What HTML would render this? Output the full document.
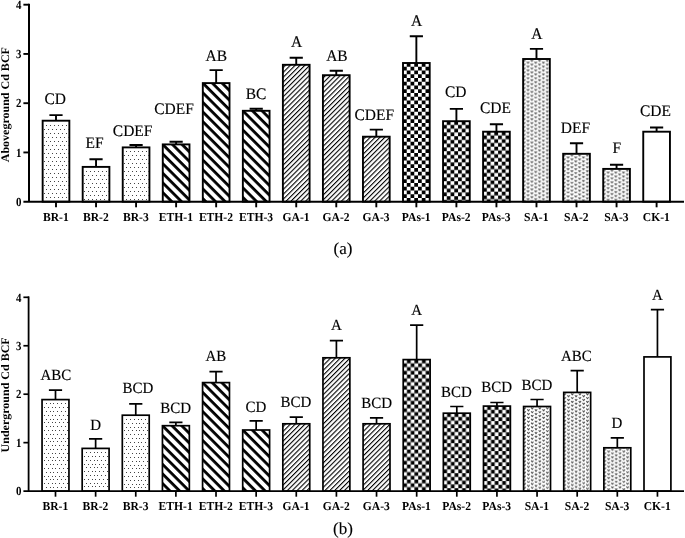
<!DOCTYPE html>
<html><head><meta charset="utf-8"><title>Cd BCF</title>
<style>
html,body{margin:0;padding:0;background:#fff}
svg{display:block;will-change:transform}
text{font-family:"Liberation Serif",serif;fill:#000;text-rendering:geometricPrecision}
.l{text-anchor:middle;stroke:#000;stroke-width:0.15px}
.x{font-size:11.6px;font-weight:bold;text-anchor:middle}
.t{font-size:12.4px;font-weight:bold;text-anchor:end}
.ti{font-size:12px;font-weight:bold;text-anchor:middle}
.c{font-size:17px;text-anchor:middle;stroke:#000;stroke-width:0.12px}
</style></head><body>
<svg width="685" height="538" viewBox="0 0 685 538">
<defs>
<pattern id="etha" width="6.800" height="6.800" y="-1.40" patternUnits="userSpaceOnUse" patternTransform="rotate(45)"><rect width="6.800" height="6.800" fill="#fff"/><rect width="6.800" height="2.800" y="0" fill="#000"/></pattern>
<pattern id="gaa" y="1.56" width="3.450" height="3.450" patternUnits="userSpaceOnUse" patternTransform="rotate(-45)"><rect width="3.450" height="3.450" fill="#fff"/><rect width="3.450" height="1.100" y="0" fill="#000"/></pattern>
<pattern id="chka" width="15.000" height="15.000" x="0.00" y="0.00" patternUnits="userSpaceOnUse"><rect width="15.000" height="15.000" fill="#fff"/><path d="M3.750 0.000h3.750v3.750h-3.750zM11.250 0.000h3.750v3.750h-3.750zM0.000 3.750h3.750v3.750h-3.750zM7.500 3.750h3.750v3.750h-3.750zM3.750 7.500h3.750v3.750h-3.750zM11.250 7.500h3.750v3.750h-3.750zM0.000 11.250h3.750v3.750h-3.750zM7.500 11.250h3.750v3.750h-3.750z" fill="#000"/></pattern>
<pattern id="saa" width="38.500" height="39.000" x="-0.58" y="0.40" patternUnits="userSpaceOnUse"><rect width="38.500" height="39.000" fill="#fff"/><path d="M0.50 0.40l1.15 1.6l1.15 -1.6M4.35 2.35l1.15 1.6l1.15 -1.6M8.20 0.40l1.15 1.6l1.15 -1.6M12.05 2.35l1.15 1.6l1.15 -1.6M15.90 0.40l1.15 1.6l1.15 -1.6M19.75 2.35l1.15 1.6l1.15 -1.6M23.60 0.40l1.15 1.6l1.15 -1.6M27.45 2.35l1.15 1.6l1.15 -1.6M31.30 0.40l1.15 1.6l1.15 -1.6M35.15 2.35l1.15 1.6l1.15 -1.6M0.50 4.30l1.15 1.6l1.15 -1.6M4.35 6.25l1.15 1.6l1.15 -1.6M8.20 4.30l1.15 1.6l1.15 -1.6M12.05 6.25l1.15 1.6l1.15 -1.6M15.90 4.30l1.15 1.6l1.15 -1.6M19.75 6.25l1.15 1.6l1.15 -1.6M23.60 4.30l1.15 1.6l1.15 -1.6M27.45 6.25l1.15 1.6l1.15 -1.6M31.30 4.30l1.15 1.6l1.15 -1.6M35.15 6.25l1.15 1.6l1.15 -1.6M0.50 8.20l1.15 1.6l1.15 -1.6M4.35 10.15l1.15 1.6l1.15 -1.6M8.20 8.20l1.15 1.6l1.15 -1.6M12.05 10.15l1.15 1.6l1.15 -1.6M15.90 8.20l1.15 1.6l1.15 -1.6M19.75 10.15l1.15 1.6l1.15 -1.6M23.60 8.20l1.15 1.6l1.15 -1.6M27.45 10.15l1.15 1.6l1.15 -1.6M31.30 8.20l1.15 1.6l1.15 -1.6M35.15 10.15l1.15 1.6l1.15 -1.6M0.50 12.10l1.15 1.6l1.15 -1.6M4.35 14.05l1.15 1.6l1.15 -1.6M8.20 12.10l1.15 1.6l1.15 -1.6M12.05 14.05l1.15 1.6l1.15 -1.6M15.90 12.10l1.15 1.6l1.15 -1.6M19.75 14.05l1.15 1.6l1.15 -1.6M23.60 12.10l1.15 1.6l1.15 -1.6M27.45 14.05l1.15 1.6l1.15 -1.6M31.30 12.10l1.15 1.6l1.15 -1.6M35.15 14.05l1.15 1.6l1.15 -1.6M0.50 16.00l1.15 1.6l1.15 -1.6M4.35 17.95l1.15 1.6l1.15 -1.6M8.20 16.00l1.15 1.6l1.15 -1.6M12.05 17.95l1.15 1.6l1.15 -1.6M15.90 16.00l1.15 1.6l1.15 -1.6M19.75 17.95l1.15 1.6l1.15 -1.6M23.60 16.00l1.15 1.6l1.15 -1.6M27.45 17.95l1.15 1.6l1.15 -1.6M31.30 16.00l1.15 1.6l1.15 -1.6M35.15 17.95l1.15 1.6l1.15 -1.6M0.50 19.90l1.15 1.6l1.15 -1.6M4.35 21.85l1.15 1.6l1.15 -1.6M8.20 19.90l1.15 1.6l1.15 -1.6M12.05 21.85l1.15 1.6l1.15 -1.6M15.90 19.90l1.15 1.6l1.15 -1.6M19.75 21.85l1.15 1.6l1.15 -1.6M23.60 19.90l1.15 1.6l1.15 -1.6M27.45 21.85l1.15 1.6l1.15 -1.6M31.30 19.90l1.15 1.6l1.15 -1.6M35.15 21.85l1.15 1.6l1.15 -1.6M0.50 23.80l1.15 1.6l1.15 -1.6M4.35 25.75l1.15 1.6l1.15 -1.6M8.20 23.80l1.15 1.6l1.15 -1.6M12.05 25.75l1.15 1.6l1.15 -1.6M15.90 23.80l1.15 1.6l1.15 -1.6M19.75 25.75l1.15 1.6l1.15 -1.6M23.60 23.80l1.15 1.6l1.15 -1.6M27.45 25.75l1.15 1.6l1.15 -1.6M31.30 23.80l1.15 1.6l1.15 -1.6M35.15 25.75l1.15 1.6l1.15 -1.6M0.50 27.70l1.15 1.6l1.15 -1.6M4.35 29.65l1.15 1.6l1.15 -1.6M8.20 27.70l1.15 1.6l1.15 -1.6M12.05 29.65l1.15 1.6l1.15 -1.6M15.90 27.70l1.15 1.6l1.15 -1.6M19.75 29.65l1.15 1.6l1.15 -1.6M23.60 27.70l1.15 1.6l1.15 -1.6M27.45 29.65l1.15 1.6l1.15 -1.6M31.30 27.70l1.15 1.6l1.15 -1.6M35.15 29.65l1.15 1.6l1.15 -1.6M0.50 31.60l1.15 1.6l1.15 -1.6M4.35 33.55l1.15 1.6l1.15 -1.6M8.20 31.60l1.15 1.6l1.15 -1.6M12.05 33.55l1.15 1.6l1.15 -1.6M15.90 31.60l1.15 1.6l1.15 -1.6M19.75 33.55l1.15 1.6l1.15 -1.6M23.60 31.60l1.15 1.6l1.15 -1.6M27.45 33.55l1.15 1.6l1.15 -1.6M31.30 31.60l1.15 1.6l1.15 -1.6M35.15 33.55l1.15 1.6l1.15 -1.6M0.50 35.50l1.15 1.6l1.15 -1.6M4.35 37.45l1.15 1.6l1.15 -1.6M8.20 35.50l1.15 1.6l1.15 -1.6M12.05 37.45l1.15 1.6l1.15 -1.6M15.90 35.50l1.15 1.6l1.15 -1.6M19.75 37.45l1.15 1.6l1.15 -1.6M23.60 35.50l1.15 1.6l1.15 -1.6M27.45 37.45l1.15 1.6l1.15 -1.6M31.30 35.50l1.15 1.6l1.15 -1.6M35.15 37.45l1.15 1.6l1.15 -1.6" stroke="#484848" stroke-width="1.0" stroke-linejoin="round" fill="none"/></pattern>
<pattern id="ethb" width="6.800" height="6.800" y="-1.40" patternUnits="userSpaceOnUse" patternTransform="rotate(45)"><rect width="6.800" height="6.800" fill="#fff"/><rect width="6.800" height="2.800" y="0" fill="#000"/></pattern>
<pattern id="gab" y="1.56" width="3.450" height="3.450" patternUnits="userSpaceOnUse" patternTransform="rotate(-45)"><rect width="3.450" height="3.450" fill="#fff"/><rect width="3.450" height="1.100" y="0" fill="#000"/></pattern>
<pattern id="chkb" width="15.000" height="15.000" x="0.00" y="0.00" patternUnits="userSpaceOnUse"><rect width="15.000" height="15.000" fill="#fff"/><path d="M3.750 0.000h3.750v3.750h-3.750zM11.250 0.000h3.750v3.750h-3.750zM0.000 3.750h3.750v3.750h-3.750zM7.500 3.750h3.750v3.750h-3.750zM3.750 7.500h3.750v3.750h-3.750zM11.250 7.500h3.750v3.750h-3.750zM0.000 11.250h3.750v3.750h-3.750zM7.500 11.250h3.750v3.750h-3.750z" fill="#000"/></pattern>
<pattern id="sab" width="37.800" height="37.800" x="-0.59" y="0.58" patternUnits="userSpaceOnUse"><rect width="37.800" height="37.800" fill="#fff"/><path d="M0.50 0.40l1.15 1.6l1.15 -1.6M4.28 2.29l1.15 1.6l1.15 -1.6M8.06 0.40l1.15 1.6l1.15 -1.6M11.84 2.29l1.15 1.6l1.15 -1.6M15.62 0.40l1.15 1.6l1.15 -1.6M19.40 2.29l1.15 1.6l1.15 -1.6M23.18 0.40l1.15 1.6l1.15 -1.6M26.96 2.29l1.15 1.6l1.15 -1.6M30.74 0.40l1.15 1.6l1.15 -1.6M34.52 2.29l1.15 1.6l1.15 -1.6M0.50 4.18l1.15 1.6l1.15 -1.6M4.28 6.07l1.15 1.6l1.15 -1.6M8.06 4.18l1.15 1.6l1.15 -1.6M11.84 6.07l1.15 1.6l1.15 -1.6M15.62 4.18l1.15 1.6l1.15 -1.6M19.40 6.07l1.15 1.6l1.15 -1.6M23.18 4.18l1.15 1.6l1.15 -1.6M26.96 6.07l1.15 1.6l1.15 -1.6M30.74 4.18l1.15 1.6l1.15 -1.6M34.52 6.07l1.15 1.6l1.15 -1.6M0.50 7.96l1.15 1.6l1.15 -1.6M4.28 9.85l1.15 1.6l1.15 -1.6M8.06 7.96l1.15 1.6l1.15 -1.6M11.84 9.85l1.15 1.6l1.15 -1.6M15.62 7.96l1.15 1.6l1.15 -1.6M19.40 9.85l1.15 1.6l1.15 -1.6M23.18 7.96l1.15 1.6l1.15 -1.6M26.96 9.85l1.15 1.6l1.15 -1.6M30.74 7.96l1.15 1.6l1.15 -1.6M34.52 9.85l1.15 1.6l1.15 -1.6M0.50 11.74l1.15 1.6l1.15 -1.6M4.28 13.63l1.15 1.6l1.15 -1.6M8.06 11.74l1.15 1.6l1.15 -1.6M11.84 13.63l1.15 1.6l1.15 -1.6M15.62 11.74l1.15 1.6l1.15 -1.6M19.40 13.63l1.15 1.6l1.15 -1.6M23.18 11.74l1.15 1.6l1.15 -1.6M26.96 13.63l1.15 1.6l1.15 -1.6M30.74 11.74l1.15 1.6l1.15 -1.6M34.52 13.63l1.15 1.6l1.15 -1.6M0.50 15.52l1.15 1.6l1.15 -1.6M4.28 17.41l1.15 1.6l1.15 -1.6M8.06 15.52l1.15 1.6l1.15 -1.6M11.84 17.41l1.15 1.6l1.15 -1.6M15.62 15.52l1.15 1.6l1.15 -1.6M19.40 17.41l1.15 1.6l1.15 -1.6M23.18 15.52l1.15 1.6l1.15 -1.6M26.96 17.41l1.15 1.6l1.15 -1.6M30.74 15.52l1.15 1.6l1.15 -1.6M34.52 17.41l1.15 1.6l1.15 -1.6M0.50 19.30l1.15 1.6l1.15 -1.6M4.28 21.19l1.15 1.6l1.15 -1.6M8.06 19.30l1.15 1.6l1.15 -1.6M11.84 21.19l1.15 1.6l1.15 -1.6M15.62 19.30l1.15 1.6l1.15 -1.6M19.40 21.19l1.15 1.6l1.15 -1.6M23.18 19.30l1.15 1.6l1.15 -1.6M26.96 21.19l1.15 1.6l1.15 -1.6M30.74 19.30l1.15 1.6l1.15 -1.6M34.52 21.19l1.15 1.6l1.15 -1.6M0.50 23.08l1.15 1.6l1.15 -1.6M4.28 24.97l1.15 1.6l1.15 -1.6M8.06 23.08l1.15 1.6l1.15 -1.6M11.84 24.97l1.15 1.6l1.15 -1.6M15.62 23.08l1.15 1.6l1.15 -1.6M19.40 24.97l1.15 1.6l1.15 -1.6M23.18 23.08l1.15 1.6l1.15 -1.6M26.96 24.97l1.15 1.6l1.15 -1.6M30.74 23.08l1.15 1.6l1.15 -1.6M34.52 24.97l1.15 1.6l1.15 -1.6M0.50 26.86l1.15 1.6l1.15 -1.6M4.28 28.75l1.15 1.6l1.15 -1.6M8.06 26.86l1.15 1.6l1.15 -1.6M11.84 28.75l1.15 1.6l1.15 -1.6M15.62 26.86l1.15 1.6l1.15 -1.6M19.40 28.75l1.15 1.6l1.15 -1.6M23.18 26.86l1.15 1.6l1.15 -1.6M26.96 28.75l1.15 1.6l1.15 -1.6M30.74 26.86l1.15 1.6l1.15 -1.6M34.52 28.75l1.15 1.6l1.15 -1.6M0.50 30.64l1.15 1.6l1.15 -1.6M4.28 32.53l1.15 1.6l1.15 -1.6M8.06 30.64l1.15 1.6l1.15 -1.6M11.84 32.53l1.15 1.6l1.15 -1.6M15.62 30.64l1.15 1.6l1.15 -1.6M19.40 32.53l1.15 1.6l1.15 -1.6M23.18 30.64l1.15 1.6l1.15 -1.6M26.96 32.53l1.15 1.6l1.15 -1.6M30.74 30.64l1.15 1.6l1.15 -1.6M34.52 32.53l1.15 1.6l1.15 -1.6M0.50 34.42l1.15 1.6l1.15 -1.6M4.28 36.31l1.15 1.6l1.15 -1.6M8.06 34.42l1.15 1.6l1.15 -1.6M11.84 36.31l1.15 1.6l1.15 -1.6M15.62 34.42l1.15 1.6l1.15 -1.6M19.40 36.31l1.15 1.6l1.15 -1.6M23.18 34.42l1.15 1.6l1.15 -1.6M26.96 36.31l1.15 1.6l1.15 -1.6M30.74 34.42l1.15 1.6l1.15 -1.6M34.52 36.31l1.15 1.6l1.15 -1.6" stroke="#484848" stroke-width="1.0" stroke-linejoin="round" fill="none"/></pattern>
</defs>
<rect width="685" height="538" fill="#fff"/>
<path d="M56.00 120.70V115.10M49.40 115.10H62.60" stroke="#000" stroke-width="1.90" fill="none"/>
<g transform="translate(42.65 120.70)"><rect x="0" y="0" width="26.70" height="81.00" fill="#fff" stroke="#000" stroke-width="1.90"/></g>
<path d="M46 125h1v1h-1zM50 125h1v1h-1zM54 125h1v1h-1zM58 125h1v1h-1zM62 125h1v1h-1zM66 125h1v1h-1zM46 133h1v1h-1zM50 133h1v1h-1zM54 133h1v1h-1zM58 133h1v1h-1zM62 133h1v1h-1zM66 133h1v1h-1zM46 141h1v1h-1zM50 141h1v1h-1zM54 141h1v1h-1zM58 141h1v1h-1zM62 141h1v1h-1zM66 141h1v1h-1zM46 149h1v1h-1zM50 149h1v1h-1zM54 149h1v1h-1zM58 149h1v1h-1zM62 149h1v1h-1zM66 149h1v1h-1zM46 157h1v1h-1zM50 157h1v1h-1zM54 157h1v1h-1zM58 157h1v1h-1zM62 157h1v1h-1zM66 157h1v1h-1zM46 165h1v1h-1zM50 165h1v1h-1zM54 165h1v1h-1zM58 165h1v1h-1zM62 165h1v1h-1zM66 165h1v1h-1zM46 173h1v1h-1zM50 173h1v1h-1zM54 173h1v1h-1zM58 173h1v1h-1zM62 173h1v1h-1zM66 173h1v1h-1zM46 181h1v1h-1zM50 181h1v1h-1zM54 181h1v1h-1zM58 181h1v1h-1zM62 181h1v1h-1zM66 181h1v1h-1zM46 189h1v1h-1zM50 189h1v1h-1zM54 189h1v1h-1zM58 189h1v1h-1zM62 189h1v1h-1zM66 189h1v1h-1zM46 197h1v1h-1zM50 197h1v1h-1zM54 197h1v1h-1zM58 197h1v1h-1zM62 197h1v1h-1zM66 197h1v1h-1zM44 129h1v1h-1zM48 129h1v1h-1zM52 129h1v1h-1zM56 129h1v1h-1zM60 129h1v1h-1zM64 129h1v1h-1zM68 129h1v1h-1zM44 137h1v1h-1zM48 137h1v1h-1zM52 137h1v1h-1zM56 137h1v1h-1zM60 137h1v1h-1zM64 137h1v1h-1zM68 137h1v1h-1zM44 145h1v1h-1zM48 145h1v1h-1zM52 145h1v1h-1zM56 145h1v1h-1zM60 145h1v1h-1zM64 145h1v1h-1zM68 145h1v1h-1zM44 153h1v1h-1zM48 153h1v1h-1zM52 153h1v1h-1zM56 153h1v1h-1zM60 153h1v1h-1zM64 153h1v1h-1zM68 153h1v1h-1zM44 161h1v1h-1zM48 161h1v1h-1zM52 161h1v1h-1zM56 161h1v1h-1zM60 161h1v1h-1zM64 161h1v1h-1zM68 161h1v1h-1zM44 169h1v1h-1zM48 169h1v1h-1zM52 169h1v1h-1zM56 169h1v1h-1zM60 169h1v1h-1zM64 169h1v1h-1zM68 169h1v1h-1zM44 177h1v1h-1zM48 177h1v1h-1zM52 177h1v1h-1zM56 177h1v1h-1zM60 177h1v1h-1zM64 177h1v1h-1zM68 177h1v1h-1zM44 185h1v1h-1zM48 185h1v1h-1zM52 185h1v1h-1zM56 185h1v1h-1zM60 185h1v1h-1zM64 185h1v1h-1zM68 185h1v1h-1zM44 193h1v1h-1zM48 193h1v1h-1zM52 193h1v1h-1zM56 193h1v1h-1zM60 193h1v1h-1zM64 193h1v1h-1zM68 193h1v1h-1z" fill="#444" shape-rendering="crispEdges"/>
<text transform="translate(55.30 104.05) scale(1 1.040)" class="l" font-size="15.50">CD</text>
<path d="M56.00 201.70V207.30" stroke="#000" stroke-width="1.90"/>
<text transform="translate(55.80 220.90) scale(1 1.04)" class="x">BR-1</text>
<path d="M96.04 166.90V159.20M89.44 159.20H102.64" stroke="#000" stroke-width="1.90" fill="none"/>
<g transform="translate(82.69 166.90)"><rect x="0" y="0" width="26.70" height="34.80" fill="#fff" stroke="#000" stroke-width="1.90"/></g>
<path d="M86 171h1v1h-1zM90 171h1v1h-1zM94 171h1v1h-1zM98 171h1v1h-1zM102 171h1v1h-1zM106 171h1v1h-1zM86 179h1v1h-1zM90 179h1v1h-1zM94 179h1v1h-1zM98 179h1v1h-1zM102 179h1v1h-1zM106 179h1v1h-1zM86 187h1v1h-1zM90 187h1v1h-1zM94 187h1v1h-1zM98 187h1v1h-1zM102 187h1v1h-1zM106 187h1v1h-1zM86 195h1v1h-1zM90 195h1v1h-1zM94 195h1v1h-1zM98 195h1v1h-1zM102 195h1v1h-1zM106 195h1v1h-1zM84 175h1v1h-1zM88 175h1v1h-1zM92 175h1v1h-1zM96 175h1v1h-1zM100 175h1v1h-1zM104 175h1v1h-1zM108 175h1v1h-1zM84 183h1v1h-1zM88 183h1v1h-1zM92 183h1v1h-1zM96 183h1v1h-1zM100 183h1v1h-1zM104 183h1v1h-1zM108 183h1v1h-1zM84 191h1v1h-1zM88 191h1v1h-1zM92 191h1v1h-1zM96 191h1v1h-1zM100 191h1v1h-1zM104 191h1v1h-1zM108 191h1v1h-1zM84 199h1v1h-1zM88 199h1v1h-1zM92 199h1v1h-1zM96 199h1v1h-1zM100 199h1v1h-1zM104 199h1v1h-1zM108 199h1v1h-1z" fill="#444" shape-rendering="crispEdges"/>
<text transform="translate(94.50 148.45) scale(1 1.040)" class="l" font-size="15.50">EF</text>
<path d="M96.04 201.70V207.30" stroke="#000" stroke-width="1.90"/>
<text transform="translate(95.84 220.90) scale(1 1.04)" class="x">BR-2</text>
<path d="M136.08 147.40V145.00M129.48 145.00H142.68" stroke="#000" stroke-width="1.90" fill="none"/>
<g transform="translate(122.73 147.40)"><rect x="0" y="0" width="26.70" height="54.30" fill="#fff" stroke="#000" stroke-width="1.90"/></g>
<path d="M126 151h1v1h-1zM130 151h1v1h-1zM134 151h1v1h-1zM138 151h1v1h-1zM142 151h1v1h-1zM146 151h1v1h-1zM126 159h1v1h-1zM130 159h1v1h-1zM134 159h1v1h-1zM138 159h1v1h-1zM142 159h1v1h-1zM146 159h1v1h-1zM126 167h1v1h-1zM130 167h1v1h-1zM134 167h1v1h-1zM138 167h1v1h-1zM142 167h1v1h-1zM146 167h1v1h-1zM126 175h1v1h-1zM130 175h1v1h-1zM134 175h1v1h-1zM138 175h1v1h-1zM142 175h1v1h-1zM146 175h1v1h-1zM126 183h1v1h-1zM130 183h1v1h-1zM134 183h1v1h-1zM138 183h1v1h-1zM142 183h1v1h-1zM146 183h1v1h-1zM126 191h1v1h-1zM130 191h1v1h-1zM134 191h1v1h-1zM138 191h1v1h-1zM142 191h1v1h-1zM146 191h1v1h-1zM126 199h1v1h-1zM130 199h1v1h-1zM134 199h1v1h-1zM138 199h1v1h-1zM142 199h1v1h-1zM146 199h1v1h-1zM124 155h1v1h-1zM128 155h1v1h-1zM132 155h1v1h-1zM136 155h1v1h-1zM140 155h1v1h-1zM144 155h1v1h-1zM148 155h1v1h-1zM124 163h1v1h-1zM128 163h1v1h-1zM132 163h1v1h-1zM136 163h1v1h-1zM140 163h1v1h-1zM144 163h1v1h-1zM148 163h1v1h-1zM124 171h1v1h-1zM128 171h1v1h-1zM132 171h1v1h-1zM136 171h1v1h-1zM140 171h1v1h-1zM144 171h1v1h-1zM148 171h1v1h-1zM124 179h1v1h-1zM128 179h1v1h-1zM132 179h1v1h-1zM136 179h1v1h-1zM140 179h1v1h-1zM144 179h1v1h-1zM148 179h1v1h-1zM124 187h1v1h-1zM128 187h1v1h-1zM132 187h1v1h-1zM136 187h1v1h-1zM140 187h1v1h-1zM144 187h1v1h-1zM148 187h1v1h-1zM124 195h1v1h-1zM128 195h1v1h-1zM132 195h1v1h-1zM136 195h1v1h-1zM140 195h1v1h-1zM144 195h1v1h-1zM148 195h1v1h-1z" fill="#444" shape-rendering="crispEdges"/>
<text transform="translate(132.60 136.45) scale(1 1.040)" class="l" font-size="15.50">CDEF</text>
<path d="M136.08 201.70V207.30" stroke="#000" stroke-width="1.90"/>
<text transform="translate(135.88 220.90) scale(1 1.04)" class="x">BR-3</text>
<path d="M176.12 144.40V141.80M169.52 141.80H182.72" stroke="#000" stroke-width="1.90" fill="none"/>
<g transform="translate(162.77 144.40)"><rect x="0" y="0" width="26.70" height="57.30" fill="url(#etha)" stroke="#000" stroke-width="1.90"/></g>
<text transform="translate(174.00 113.55) scale(1 1.040)" class="l" font-size="15.50">CDEF</text>
<path d="M176.12 201.70V207.30" stroke="#000" stroke-width="1.90"/>
<text transform="translate(175.92 220.90) scale(1 1.04)" class="x">ETH-1</text>
<path d="M216.16 83.10V70.10M209.56 70.10H222.76" stroke="#000" stroke-width="1.90" fill="none"/>
<g transform="translate(202.81 83.10)"><rect x="0" y="0" width="26.70" height="118.60" fill="url(#etha)" stroke="#000" stroke-width="1.90"/></g>
<text transform="translate(216.30 60.65) scale(1 1.040)" class="l" font-size="15.50">AB</text>
<path d="M216.16 201.70V207.30" stroke="#000" stroke-width="1.90"/>
<text transform="translate(215.96 220.90) scale(1 1.04)" class="x">ETH-2</text>
<path d="M256.20 110.80V108.80M249.60 108.80H262.80" stroke="#000" stroke-width="1.90" fill="none"/>
<g transform="translate(242.85 110.80)"><rect x="0" y="0" width="26.70" height="90.90" fill="url(#etha)" stroke="#000" stroke-width="1.90"/></g>
<text transform="translate(256.00 99.05) scale(1 1.040)" class="l" font-size="15.50">BC</text>
<path d="M256.20 201.70V207.30" stroke="#000" stroke-width="1.90"/>
<text transform="translate(256.00 220.90) scale(1 1.04)" class="x">ETH-3</text>
<path d="M296.24 64.80V57.80M289.64 57.80H302.84" stroke="#000" stroke-width="1.90" fill="none"/>
<g transform="translate(282.89 64.80)"><rect x="0" y="0" width="26.70" height="136.90" fill="url(#gaa)" stroke="#000" stroke-width="1.90"/></g>
<text transform="translate(296.50 47.35) scale(1 1.040)" class="l" font-size="15.50">A</text>
<path d="M296.24 201.70V207.30" stroke="#000" stroke-width="1.90"/>
<text transform="translate(296.04 220.90) scale(1 1.04)" class="x">GA-1</text>
<path d="M336.28 75.20V70.80M329.68 70.80H342.88" stroke="#000" stroke-width="1.90" fill="none"/>
<g transform="translate(322.93 75.20)"><rect x="0" y="0" width="26.70" height="126.50" fill="url(#gaa)" stroke="#000" stroke-width="1.90"/></g>
<text transform="translate(336.90 60.75) scale(1 1.040)" class="l" font-size="15.50">AB</text>
<path d="M336.28 201.70V207.30" stroke="#000" stroke-width="1.90"/>
<text transform="translate(336.08 220.90) scale(1 1.04)" class="x">GA-2</text>
<path d="M376.32 136.70V129.60M369.72 129.60H382.92" stroke="#000" stroke-width="1.90" fill="none"/>
<g transform="translate(362.97 136.70)"><rect x="0" y="0" width="26.70" height="65.00" fill="url(#gaa)" stroke="#000" stroke-width="1.90"/></g>
<text transform="translate(374.30 119.75) scale(1 1.040)" class="l" font-size="15.50">CDEF</text>
<path d="M376.32 201.70V207.30" stroke="#000" stroke-width="1.90"/>
<text transform="translate(376.12 220.90) scale(1 1.04)" class="x">GA-3</text>
<path d="M416.36 63.00V36.20M409.76 36.20H422.96" stroke="#000" stroke-width="1.90" fill="none"/>
<g transform="translate(403.01 63.00)"><rect x="0" y="0" width="26.70" height="138.70" fill="url(#chka)" stroke="#000" stroke-width="1.90"/></g>
<text transform="translate(416.60 25.85) scale(1 1.040)" class="l" font-size="15.50">A</text>
<path d="M416.36 201.70V207.30" stroke="#000" stroke-width="1.90"/>
<text transform="translate(416.16 220.90) scale(1 1.04)" class="x">PAs-1</text>
<path d="M456.40 121.20V108.90M449.80 108.90H463.00" stroke="#000" stroke-width="1.90" fill="none"/>
<g transform="translate(443.05 121.20)"><rect x="0" y="0" width="26.70" height="80.50" fill="url(#chka)" stroke="#000" stroke-width="1.90"/></g>
<text transform="translate(455.70 96.95) scale(1 1.040)" class="l" font-size="15.50">CD</text>
<path d="M456.40 201.70V207.30" stroke="#000" stroke-width="1.90"/>
<text transform="translate(456.20 220.90) scale(1 1.04)" class="x">PAs-2</text>
<path d="M496.44 131.70V124.30M489.84 124.30H503.04" stroke="#000" stroke-width="1.90" fill="none"/>
<g transform="translate(483.09 131.70)"><rect x="0" y="0" width="26.70" height="70.00" fill="url(#chka)" stroke="#000" stroke-width="1.90"/></g>
<text transform="translate(495.50 112.85) scale(1 1.040)" class="l" font-size="15.50">CDE</text>
<path d="M496.44 201.70V207.30" stroke="#000" stroke-width="1.90"/>
<text transform="translate(496.24 220.90) scale(1 1.04)" class="x">PAs-3</text>
<path d="M536.48 59.00V48.90M529.88 48.90H543.08" stroke="#000" stroke-width="1.90" fill="none"/>
<g transform="translate(523.13 59.00)"><rect x="0" y="0" width="26.70" height="142.70" fill="url(#saa)" stroke="#000" stroke-width="1.90"/></g>
<text transform="translate(536.80 38.85) scale(1 1.040)" class="l" font-size="15.50">A</text>
<path d="M536.48 201.70V207.30" stroke="#000" stroke-width="1.90"/>
<text transform="translate(536.28 220.90) scale(1 1.04)" class="x">SA-1</text>
<path d="M576.52 153.80V143.20M569.92 143.20H583.12" stroke="#000" stroke-width="1.90" fill="none"/>
<g transform="translate(563.17 153.80)"><rect x="0" y="0" width="26.70" height="47.90" fill="url(#saa)" stroke="#000" stroke-width="1.90"/></g>
<text transform="translate(575.40 133.35) scale(1 1.040)" class="l" font-size="15.50">DEF</text>
<path d="M576.52 201.70V207.30" stroke="#000" stroke-width="1.90"/>
<text transform="translate(576.32 220.90) scale(1 1.04)" class="x">SA-2</text>
<path d="M616.56 168.90V164.70M609.96 164.70H623.16" stroke="#000" stroke-width="1.90" fill="none"/>
<g transform="translate(603.21 168.90)"><rect x="0" y="0" width="26.70" height="32.80" fill="url(#saa)" stroke="#000" stroke-width="1.90"/></g>
<text transform="translate(616.90 153.05) scale(1 1.040)" class="l" font-size="15.50">F</text>
<path d="M616.56 201.70V207.30" stroke="#000" stroke-width="1.90"/>
<text transform="translate(616.36 220.90) scale(1 1.04)" class="x">SA-3</text>
<path d="M656.60 131.70V127.50M650.00 127.50H663.20" stroke="#000" stroke-width="1.90" fill="none"/>
<g transform="translate(643.25 131.70)"><rect x="0" y="0" width="26.70" height="70.00" fill="#fff" stroke="#000" stroke-width="1.90"/></g>
<text transform="translate(655.40 116.35) scale(1 1.040)" class="l" font-size="15.50">CDE</text>
<path d="M656.60 201.70V207.30" stroke="#000" stroke-width="1.90"/>
<text transform="translate(656.40 220.90) scale(1 1.04)" class="x">CK-1</text>
<path d="M23.4 201.70H684" stroke="#000" stroke-width="2.00"/>
<path d="M29.00 3.75V201.70" stroke="#000" stroke-width="2.00"/>
<text transform="translate(21.4 205.90) scale(0.88 1)" class="t">0</text>
<path d="M23.4 152.45H29" stroke="#000" stroke-width="1.90"/>
<text transform="translate(21.4 156.65) scale(0.88 1)" class="t">1</text>
<path d="M23.4 103.20H29" stroke="#000" stroke-width="1.90"/>
<text transform="translate(21.4 107.40) scale(0.88 1)" class="t">2</text>
<path d="M23.4 53.95H29" stroke="#000" stroke-width="1.90"/>
<text transform="translate(21.4 58.15) scale(0.88 1)" class="t">3</text>
<path d="M23.4 4.70H29" stroke="#000" stroke-width="1.90"/>
<text transform="translate(21.4 8.90) scale(0.88 1)" class="t">4</text>
<text transform="translate(8.6 104.70) rotate(-90) scale(1 0.96)" class="ti">Aboveground Cd BCF</text>
<text x="343" y="254.20" class="c">(a)</text>
<path d="M55.50 399.60V390.10M48.90 390.10H62.10" stroke="#000" stroke-width="1.70" fill="none"/>
<g transform="translate(42.05 399.60)"><rect x="0" y="0" width="26.90" height="91.50" fill="#fff" stroke="#000" stroke-width="1.70"/></g>
<path d="M46 403h1v1h-1zM50 403h1v1h-1zM53 403h1v1h-1zM57 403h1v1h-1zM61 403h1v1h-1zM65 403h1v1h-1zM46 411h1v1h-1zM50 411h1v1h-1zM53 411h1v1h-1zM57 411h1v1h-1zM61 411h1v1h-1zM65 411h1v1h-1zM46 419h1v1h-1zM50 419h1v1h-1zM53 419h1v1h-1zM57 419h1v1h-1zM61 419h1v1h-1zM65 419h1v1h-1zM46 426h1v1h-1zM50 426h1v1h-1zM53 426h1v1h-1zM57 426h1v1h-1zM61 426h1v1h-1zM65 426h1v1h-1zM46 434h1v1h-1zM50 434h1v1h-1zM53 434h1v1h-1zM57 434h1v1h-1zM61 434h1v1h-1zM65 434h1v1h-1zM46 441h1v1h-1zM50 441h1v1h-1zM53 441h1v1h-1zM57 441h1v1h-1zM61 441h1v1h-1zM65 441h1v1h-1zM46 449h1v1h-1zM50 449h1v1h-1zM53 449h1v1h-1zM57 449h1v1h-1zM61 449h1v1h-1zM65 449h1v1h-1zM46 457h1v1h-1zM50 457h1v1h-1zM53 457h1v1h-1zM57 457h1v1h-1zM61 457h1v1h-1zM65 457h1v1h-1zM46 464h1v1h-1zM50 464h1v1h-1zM53 464h1v1h-1zM57 464h1v1h-1zM61 464h1v1h-1zM65 464h1v1h-1zM46 472h1v1h-1zM50 472h1v1h-1zM53 472h1v1h-1zM57 472h1v1h-1zM61 472h1v1h-1zM65 472h1v1h-1zM46 479h1v1h-1zM50 479h1v1h-1zM53 479h1v1h-1zM57 479h1v1h-1zM61 479h1v1h-1zM65 479h1v1h-1zM46 487h1v1h-1zM50 487h1v1h-1zM53 487h1v1h-1zM57 487h1v1h-1zM61 487h1v1h-1zM65 487h1v1h-1zM44 407h1v1h-1zM48 407h1v1h-1zM52 407h1v1h-1zM55 407h1v1h-1zM59 407h1v1h-1zM63 407h1v1h-1zM67 407h1v1h-1zM44 415h1v1h-1zM48 415h1v1h-1zM52 415h1v1h-1zM55 415h1v1h-1zM59 415h1v1h-1zM63 415h1v1h-1zM67 415h1v1h-1zM44 422h1v1h-1zM48 422h1v1h-1zM52 422h1v1h-1zM55 422h1v1h-1zM59 422h1v1h-1zM63 422h1v1h-1zM67 422h1v1h-1zM44 430h1v1h-1zM48 430h1v1h-1zM52 430h1v1h-1zM55 430h1v1h-1zM59 430h1v1h-1zM63 430h1v1h-1zM67 430h1v1h-1zM44 438h1v1h-1zM48 438h1v1h-1zM52 438h1v1h-1zM55 438h1v1h-1zM59 438h1v1h-1zM63 438h1v1h-1zM67 438h1v1h-1zM44 445h1v1h-1zM48 445h1v1h-1zM52 445h1v1h-1zM55 445h1v1h-1zM59 445h1v1h-1zM63 445h1v1h-1zM67 445h1v1h-1zM44 453h1v1h-1zM48 453h1v1h-1zM52 453h1v1h-1zM55 453h1v1h-1zM59 453h1v1h-1zM63 453h1v1h-1zM67 453h1v1h-1zM44 460h1v1h-1zM48 460h1v1h-1zM52 460h1v1h-1zM55 460h1v1h-1zM59 460h1v1h-1zM63 460h1v1h-1zM67 460h1v1h-1zM44 468h1v1h-1zM48 468h1v1h-1zM52 468h1v1h-1zM55 468h1v1h-1zM59 468h1v1h-1zM63 468h1v1h-1zM67 468h1v1h-1zM44 476h1v1h-1zM48 476h1v1h-1zM52 476h1v1h-1zM55 476h1v1h-1zM59 476h1v1h-1zM63 476h1v1h-1zM67 476h1v1h-1zM44 483h1v1h-1zM48 483h1v1h-1zM52 483h1v1h-1zM55 483h1v1h-1zM59 483h1v1h-1zM63 483h1v1h-1zM67 483h1v1h-1z" fill="#444" shape-rendering="crispEdges"/>
<text transform="translate(55.90 379.95) scale(1 1.040)" class="l" font-size="15.00">ABC</text>
<path d="M55.50 491.10V496.70" stroke="#000" stroke-width="1.70"/>
<text transform="translate(55.30 509.70) scale(1 1.04)" class="x">BR-1</text>
<path d="M95.63 448.40V438.90M89.03 438.90H102.23" stroke="#000" stroke-width="1.70" fill="none"/>
<g transform="translate(82.18 448.40)"><rect x="0" y="0" width="26.90" height="42.70" fill="#fff" stroke="#000" stroke-width="1.70"/></g>
<path d="M86 452h1v1h-1zM90 452h1v1h-1zM94 452h1v1h-1zM97 452h1v1h-1zM101 452h1v1h-1zM105 452h1v1h-1zM86 460h1v1h-1zM90 460h1v1h-1zM94 460h1v1h-1zM97 460h1v1h-1zM101 460h1v1h-1zM105 460h1v1h-1zM86 467h1v1h-1zM90 467h1v1h-1zM94 467h1v1h-1zM97 467h1v1h-1zM101 467h1v1h-1zM105 467h1v1h-1zM86 475h1v1h-1zM90 475h1v1h-1zM94 475h1v1h-1zM97 475h1v1h-1zM101 475h1v1h-1zM105 475h1v1h-1zM86 483h1v1h-1zM90 483h1v1h-1zM94 483h1v1h-1zM97 483h1v1h-1zM101 483h1v1h-1zM105 483h1v1h-1zM84 456h1v1h-1zM88 456h1v1h-1zM92 456h1v1h-1zM95 456h1v1h-1zM99 456h1v1h-1zM103 456h1v1h-1zM107 456h1v1h-1zM84 464h1v1h-1zM88 464h1v1h-1zM92 464h1v1h-1zM95 464h1v1h-1zM99 464h1v1h-1zM103 464h1v1h-1zM107 464h1v1h-1zM84 471h1v1h-1zM88 471h1v1h-1zM92 471h1v1h-1zM95 471h1v1h-1zM99 471h1v1h-1zM103 471h1v1h-1zM107 471h1v1h-1zM84 479h1v1h-1zM88 479h1v1h-1zM92 479h1v1h-1zM95 479h1v1h-1zM99 479h1v1h-1zM103 479h1v1h-1zM107 479h1v1h-1zM84 486h1v1h-1zM88 486h1v1h-1zM92 486h1v1h-1zM95 486h1v1h-1zM99 486h1v1h-1zM103 486h1v1h-1zM107 486h1v1h-1z" fill="#444" shape-rendering="crispEdges"/>
<text transform="translate(95.70 429.55) scale(1 1.040)" class="l" font-size="15.00">D</text>
<path d="M95.63 491.10V496.70" stroke="#000" stroke-width="1.70"/>
<text transform="translate(95.43 509.70) scale(1 1.04)" class="x">BR-2</text>
<path d="M135.76 415.20V403.80M129.16 403.80H142.36" stroke="#000" stroke-width="1.70" fill="none"/>
<g transform="translate(122.31 415.20)"><rect x="0" y="0" width="26.90" height="75.90" fill="#fff" stroke="#000" stroke-width="1.70"/></g>
<path d="M126 419h1v1h-1zM130 419h1v1h-1zM134 419h1v1h-1zM138 419h1v1h-1zM141 419h1v1h-1zM145 419h1v1h-1zM126 427h1v1h-1zM130 427h1v1h-1zM134 427h1v1h-1zM138 427h1v1h-1zM141 427h1v1h-1zM145 427h1v1h-1zM126 434h1v1h-1zM130 434h1v1h-1zM134 434h1v1h-1zM138 434h1v1h-1zM141 434h1v1h-1zM145 434h1v1h-1zM126 442h1v1h-1zM130 442h1v1h-1zM134 442h1v1h-1zM138 442h1v1h-1zM141 442h1v1h-1zM145 442h1v1h-1zM126 449h1v1h-1zM130 449h1v1h-1zM134 449h1v1h-1zM138 449h1v1h-1zM141 449h1v1h-1zM145 449h1v1h-1zM126 457h1v1h-1zM130 457h1v1h-1zM134 457h1v1h-1zM138 457h1v1h-1zM141 457h1v1h-1zM145 457h1v1h-1zM126 465h1v1h-1zM130 465h1v1h-1zM134 465h1v1h-1zM138 465h1v1h-1zM141 465h1v1h-1zM145 465h1v1h-1zM126 472h1v1h-1zM130 472h1v1h-1zM134 472h1v1h-1zM138 472h1v1h-1zM141 472h1v1h-1zM145 472h1v1h-1zM126 480h1v1h-1zM130 480h1v1h-1zM134 480h1v1h-1zM138 480h1v1h-1zM141 480h1v1h-1zM145 480h1v1h-1zM126 487h1v1h-1zM130 487h1v1h-1zM134 487h1v1h-1zM138 487h1v1h-1zM141 487h1v1h-1zM145 487h1v1h-1zM124 423h1v1h-1zM128 423h1v1h-1zM132 423h1v1h-1zM136 423h1v1h-1zM139 423h1v1h-1zM143 423h1v1h-1zM147 423h1v1h-1zM124 430h1v1h-1zM128 430h1v1h-1zM132 430h1v1h-1zM136 430h1v1h-1zM139 430h1v1h-1zM143 430h1v1h-1zM147 430h1v1h-1zM124 438h1v1h-1zM128 438h1v1h-1zM132 438h1v1h-1zM136 438h1v1h-1zM139 438h1v1h-1zM143 438h1v1h-1zM147 438h1v1h-1zM124 446h1v1h-1zM128 446h1v1h-1zM132 446h1v1h-1zM136 446h1v1h-1zM139 446h1v1h-1zM143 446h1v1h-1zM147 446h1v1h-1zM124 453h1v1h-1zM128 453h1v1h-1zM132 453h1v1h-1zM136 453h1v1h-1zM139 453h1v1h-1zM143 453h1v1h-1zM147 453h1v1h-1zM124 461h1v1h-1zM128 461h1v1h-1zM132 461h1v1h-1zM136 461h1v1h-1zM139 461h1v1h-1zM143 461h1v1h-1zM147 461h1v1h-1zM124 468h1v1h-1zM128 468h1v1h-1zM132 468h1v1h-1zM136 468h1v1h-1zM139 468h1v1h-1zM143 468h1v1h-1zM147 468h1v1h-1zM124 476h1v1h-1zM128 476h1v1h-1zM132 476h1v1h-1zM136 476h1v1h-1zM139 476h1v1h-1zM143 476h1v1h-1zM147 476h1v1h-1zM124 484h1v1h-1zM128 484h1v1h-1zM132 484h1v1h-1zM136 484h1v1h-1zM139 484h1v1h-1zM143 484h1v1h-1zM147 484h1v1h-1z" fill="#444" shape-rendering="crispEdges"/>
<text transform="translate(138.00 393.35) scale(1 1.040)" class="l" font-size="15.00">BCD</text>
<path d="M135.76 491.10V496.70" stroke="#000" stroke-width="1.70"/>
<text transform="translate(135.56 509.70) scale(1 1.04)" class="x">BR-3</text>
<path d="M175.89 425.70V422.30M169.29 422.30H182.49" stroke="#000" stroke-width="1.70" fill="none"/>
<g transform="translate(162.44 425.70)"><rect x="0" y="0" width="26.90" height="65.40" fill="url(#ethb)" stroke="#000" stroke-width="1.70"/></g>
<text transform="translate(175.60 412.55) scale(1 1.040)" class="l" font-size="15.00">BCD</text>
<path d="M175.89 491.10V496.70" stroke="#000" stroke-width="1.70"/>
<text transform="translate(175.69 509.70) scale(1 1.04)" class="x">ETH-1</text>
<path d="M216.02 382.60V371.70M209.42 371.70H222.62" stroke="#000" stroke-width="1.70" fill="none"/>
<g transform="translate(202.57 382.60)"><rect x="0" y="0" width="26.90" height="108.50" fill="url(#ethb)" stroke="#000" stroke-width="1.70"/></g>
<text transform="translate(215.90 361.35) scale(1 1.040)" class="l" font-size="15.00">AB</text>
<path d="M216.02 491.10V496.70" stroke="#000" stroke-width="1.70"/>
<text transform="translate(215.82 509.70) scale(1 1.04)" class="x">ETH-2</text>
<path d="M256.15 430.00V420.90M249.55 420.90H262.75" stroke="#000" stroke-width="1.70" fill="none"/>
<g transform="translate(242.70 430.00)"><rect x="0" y="0" width="26.90" height="61.10" fill="url(#ethb)" stroke="#000" stroke-width="1.70"/></g>
<text transform="translate(255.80 411.95) scale(1 1.040)" class="l" font-size="15.00">CD</text>
<path d="M256.15 491.10V496.70" stroke="#000" stroke-width="1.70"/>
<text transform="translate(255.95 509.70) scale(1 1.04)" class="x">ETH-3</text>
<path d="M296.28 423.80V417.20M289.68 417.20H302.88" stroke="#000" stroke-width="1.70" fill="none"/>
<g transform="translate(282.83 423.80)"><rect x="0" y="0" width="26.90" height="67.30" fill="url(#gab)" stroke="#000" stroke-width="1.70"/></g>
<text transform="translate(295.80 406.75) scale(1 1.040)" class="l" font-size="15.00">BCD</text>
<path d="M296.28 491.10V496.70" stroke="#000" stroke-width="1.70"/>
<text transform="translate(296.08 509.70) scale(1 1.04)" class="x">GA-1</text>
<path d="M336.41 357.80V340.60M329.81 340.60H343.01" stroke="#000" stroke-width="1.70" fill="none"/>
<g transform="translate(322.96 357.80)"><rect x="0" y="0" width="26.90" height="133.30" fill="url(#gab)" stroke="#000" stroke-width="1.70"/></g>
<text transform="translate(336.30 330.35) scale(1 1.040)" class="l" font-size="15.00">A</text>
<path d="M336.41 491.10V496.70" stroke="#000" stroke-width="1.70"/>
<text transform="translate(336.21 509.70) scale(1 1.04)" class="x">GA-2</text>
<path d="M376.54 423.80V417.80M369.94 417.80H383.14" stroke="#000" stroke-width="1.70" fill="none"/>
<g transform="translate(363.09 423.80)"><rect x="0" y="0" width="26.90" height="67.30" fill="url(#gab)" stroke="#000" stroke-width="1.70"/></g>
<text transform="translate(376.60 408.45) scale(1 1.040)" class="l" font-size="15.00">BCD</text>
<path d="M376.54 491.10V496.70" stroke="#000" stroke-width="1.70"/>
<text transform="translate(376.34 509.70) scale(1 1.04)" class="x">GA-3</text>
<path d="M416.67 359.60V325.10M410.07 325.10H423.27" stroke="#000" stroke-width="1.70" fill="none"/>
<g transform="translate(403.22 359.60)"><rect x="0" y="0" width="26.90" height="131.50" fill="url(#chkb)" stroke="#000" stroke-width="1.70"/></g>
<text transform="translate(416.70 314.95) scale(1 1.040)" class="l" font-size="15.00">A</text>
<path d="M416.67 491.10V496.70" stroke="#000" stroke-width="1.70"/>
<text transform="translate(416.47 509.70) scale(1 1.04)" class="x">PAs-1</text>
<path d="M456.80 413.20V406.50M450.20 406.50H463.40" stroke="#000" stroke-width="1.70" fill="none"/>
<g transform="translate(443.35 413.20)"><rect x="0" y="0" width="26.90" height="77.90" fill="url(#chkb)" stroke="#000" stroke-width="1.70"/></g>
<text transform="translate(456.30 397.45) scale(1 1.040)" class="l" font-size="15.00">BCD</text>
<path d="M456.80 491.10V496.70" stroke="#000" stroke-width="1.70"/>
<text transform="translate(456.60 509.70) scale(1 1.04)" class="x">PAs-2</text>
<path d="M496.93 406.10V402.50M490.33 402.50H503.53" stroke="#000" stroke-width="1.70" fill="none"/>
<g transform="translate(483.48 406.10)"><rect x="0" y="0" width="26.90" height="85.00" fill="url(#chkb)" stroke="#000" stroke-width="1.70"/></g>
<text transform="translate(496.60 392.45) scale(1 1.040)" class="l" font-size="15.00">BCD</text>
<path d="M496.93 491.10V496.70" stroke="#000" stroke-width="1.70"/>
<text transform="translate(496.73 509.70) scale(1 1.04)" class="x">PAs-3</text>
<path d="M537.06 406.50V399.50M530.46 399.50H543.66" stroke="#000" stroke-width="1.70" fill="none"/>
<g transform="translate(523.61 406.50)"><rect x="0" y="0" width="26.90" height="84.60" fill="url(#sab)" stroke="#000" stroke-width="1.70"/></g>
<text transform="translate(536.80 390.35) scale(1 1.040)" class="l" font-size="15.00">BCD</text>
<path d="M537.06 491.10V496.70" stroke="#000" stroke-width="1.70"/>
<text transform="translate(536.86 509.70) scale(1 1.04)" class="x">SA-1</text>
<path d="M577.19 392.40V370.70M570.59 370.70H583.79" stroke="#000" stroke-width="1.70" fill="none"/>
<g transform="translate(563.74 392.40)"><rect x="0" y="0" width="26.90" height="98.70" fill="url(#sab)" stroke="#000" stroke-width="1.70"/></g>
<text transform="translate(576.40 360.95) scale(1 1.040)" class="l" font-size="15.00">ABC</text>
<path d="M577.19 491.10V496.70" stroke="#000" stroke-width="1.70"/>
<text transform="translate(576.99 509.70) scale(1 1.04)" class="x">SA-2</text>
<path d="M617.32 447.80V437.80M610.72 437.80H623.92" stroke="#000" stroke-width="1.70" fill="none"/>
<g transform="translate(603.87 447.80)"><rect x="0" y="0" width="26.90" height="43.30" fill="url(#sab)" stroke="#000" stroke-width="1.70"/></g>
<text transform="translate(616.90 428.35) scale(1 1.040)" class="l" font-size="15.00">D</text>
<path d="M617.32 491.10V496.70" stroke="#000" stroke-width="1.70"/>
<text transform="translate(617.12 509.70) scale(1 1.04)" class="x">SA-3</text>
<path d="M657.45 356.90V309.70M650.85 309.70H664.05" stroke="#000" stroke-width="1.70" fill="none"/>
<g transform="translate(644.00 356.90)"><rect x="0" y="0" width="26.90" height="134.20" fill="#fff" stroke="#000" stroke-width="1.70"/></g>
<text transform="translate(657.40 299.85) scale(1 1.040)" class="l" font-size="15.00">A</text>
<path d="M657.45 491.10V496.70" stroke="#000" stroke-width="1.70"/>
<text transform="translate(657.25 509.70) scale(1 1.04)" class="x">CK-1</text>
<path d="M23.4 491.10H684" stroke="#000" stroke-width="1.80"/>
<path d="M28.60 296.45V491.10" stroke="#000" stroke-width="1.80"/>
<text transform="translate(21.4 495.30) scale(0.88 1)" class="t">0</text>
<path d="M23.4 442.65H29" stroke="#000" stroke-width="1.70"/>
<text transform="translate(21.4 446.85) scale(0.88 1)" class="t">1</text>
<path d="M23.4 394.20H29" stroke="#000" stroke-width="1.70"/>
<text transform="translate(21.4 398.40) scale(0.88 1)" class="t">2</text>
<path d="M23.4 345.75H29" stroke="#000" stroke-width="1.70"/>
<text transform="translate(21.4 349.95) scale(0.88 1)" class="t">3</text>
<path d="M23.4 297.30H29" stroke="#000" stroke-width="1.70"/>
<text transform="translate(21.4 301.50) scale(0.88 1)" class="t">4</text>
<text transform="translate(8.6 394.90) rotate(-90) scale(1 0.96)" class="ti">Underground Cd BCF</text>
<text x="343" y="534.00" class="c">(b)</text>
</svg>
</body></html>
